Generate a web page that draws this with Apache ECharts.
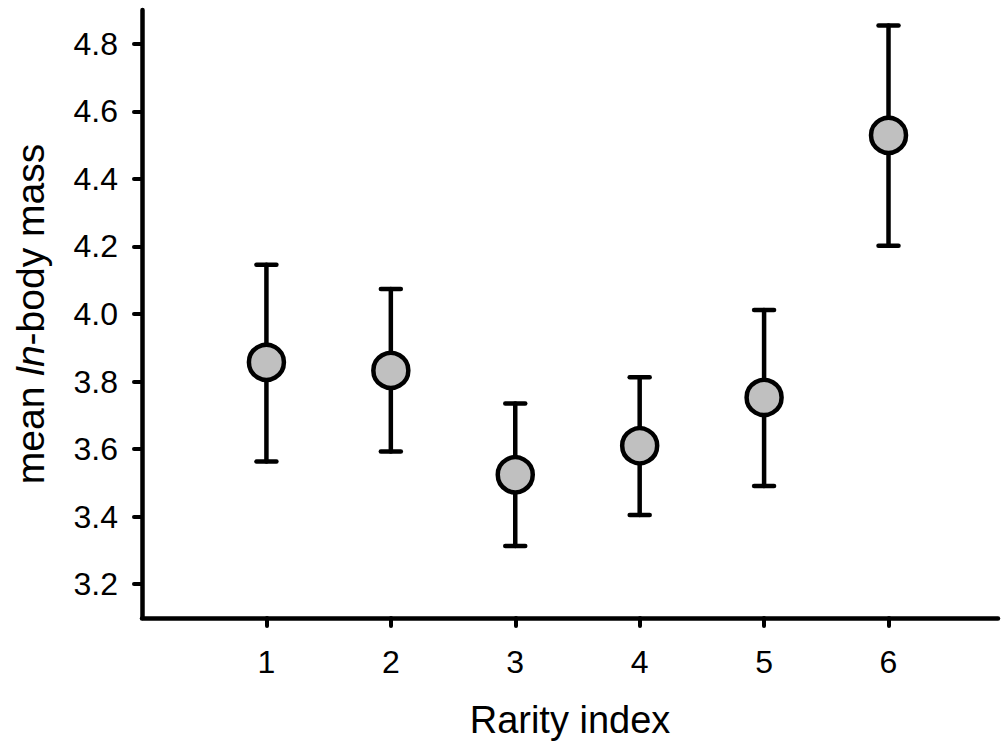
<!DOCTYPE html>
<html>
<head>
<meta charset="utf-8">
<script src="https://cdn.jsdelivr.net/npm/echarts@6/dist/echarts.min.js"></script>
<style>
html, body { margin: 0; padding: 0; background: #fff; }
#chart { width: 1001px; height: 746px; }
</style>
</head>
<body>
<div id="chart"></div>
<script>
// rarity index vs mean ln body mass

var rarity = [1, 2, 3, 4, 5, 6];
var meanMass = [3.857, 3.833, 3.524, 3.610, 3.753, 4.529];
var upper = [4.146, 4.074, 3.735, 3.813, 4.012, 4.854];
var lower = [3.563, 3.593, 3.313, 3.405, 3.491, 4.202];
var yTicks = [3.2, 3.4, 3.6, 3.8, 4.0, 4.2, 4.4, 4.6, 4.8];

var chart = echarts.init(document.getElementById('chart'), null, {renderer: 'svg'});

var font = '"Liberation Sans", Arial, Helvetica, sans-serif';

var pointData = rarity.map(function (r, i) { return [r, meanMass[i]]; });
var barData = rarity.map(function (r, i) { return [r, lower[i], upper[i]]; });

function renderErrorBar(params, api) {
    var x = api.value(0);
    var lo = api.coord([x, api.value(1)]);
    var hi = api.coord([x, api.value(2)]);
    var half = 10;
    var style = {stroke: '#000', lineWidth: 4.5, lineCap: 'round'};
    return {
        type: 'group',
        children: [
            {type: 'line', shape: {x1: lo[0], y1: lo[1], x2: hi[0], y2: hi[1]}, style: style},
            {type: 'line', shape: {x1: hi[0] - half, y1: hi[1], x2: hi[0] + half, y2: hi[1]}, style: style},
            {type: 'line', shape: {x1: lo[0] - half, y1: lo[1], x2: lo[0] + half, y2: lo[1]}, style: style}
        ]
    };
}

option = {
    backgroundColor: '#fff',
    animation: false,
    grid: {left: 142, right: 3, top: 10, bottom: 128},
    xAxis: {
        type: 'value',
        min: 0,
        max: 6.88,
        name: 'Rarity index',
        nameLocation: 'middle',
        nameGap: 83,
        nameTextStyle: {fontFamily: font, fontSize: 38, color: '#000'},
        splitLine: {show: false},
        axisLine: {lineStyle: {color: '#000', width: 4.5}},
        axisTick: {
            customValues: rarity,
            length: 8,
            lineStyle: {color: '#000', width: 4, cap: 'round'}
        },
        axisLabel: {
            customValues: rarity,
            margin: 28,
            fontFamily: font,
            fontSize: 32,
            color: '#000'
        }
    },
    yAxis: {
        type: 'value',
        min: 3.1,
        max: 4.9,
        name: 'mean {i|ln}-body mass',
        nameLocation: 'middle',
        nameGap: 92,
        nameRotate: 90,
        nameTextStyle: {
            fontFamily: font, fontSize: 39, color: '#000',
            rich: {i: {fontFamily: font, fontSize: 39, fontStyle: 'italic', color: '#000'}}
        },
        splitLine: {show: false},
        axisLine: {lineStyle: {color: '#000', width: 4.5}},
        axisTick: {
            customValues: yTicks,
            length: 8,
            lineStyle: {color: '#000', width: 4, cap: 'round'}
        },
        axisLabel: {
            customValues: yTicks,
            margin: 24,
            fontFamily: font,
            fontSize: 32,
            color: '#000',
            formatter: function (v) { return v.toFixed(1); }
        }
    },
    series: [
        {
            name: 'error',
            type: 'custom',
            renderItem: renderErrorBar,
            data: barData,
            encode: {x: 0, y: [1, 2]},
            z: 1
        },
        {
            name: 'mean',
            type: 'scatter',
            symbol: 'circle',
            symbolSize: 35,
            data: pointData,
            itemStyle: {color: '#c0c0c0', borderColor: '#000', borderWidth: 4.5, opacity: 1},
            z: 2
        }
    ]
};
chart.setOption(option);
</script>
</body>
</html>
